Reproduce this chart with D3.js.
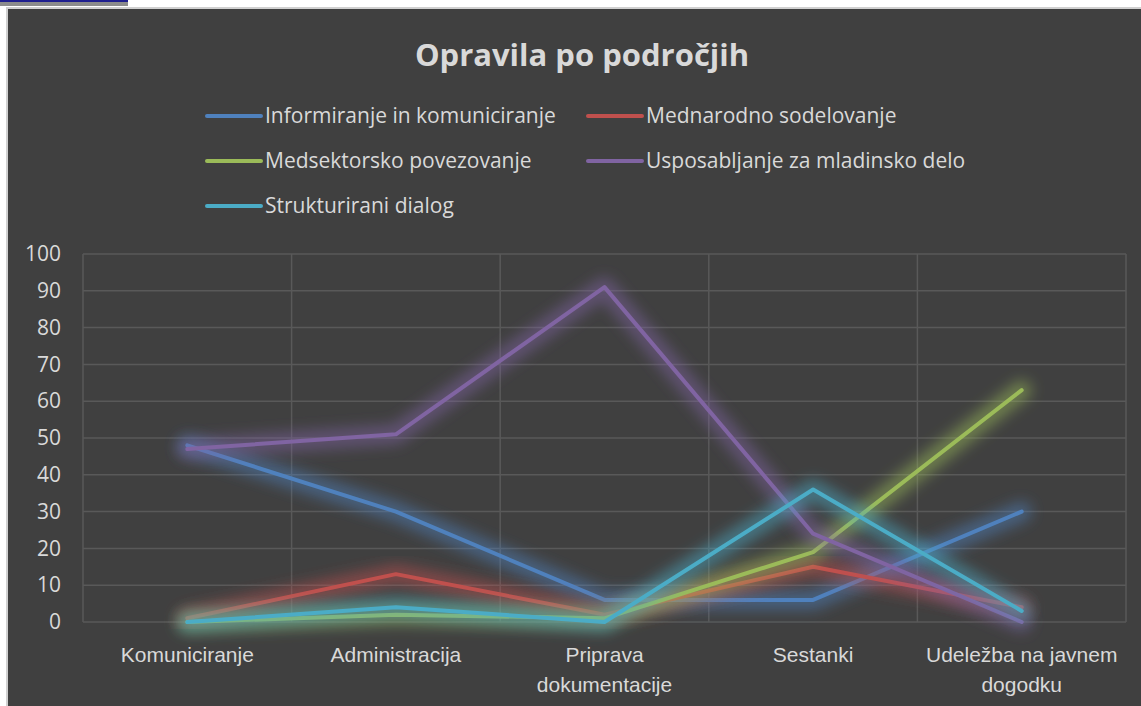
<!DOCTYPE html>
<html>
<head>
<meta charset="utf-8">
<script src="https://cdn.jsdelivr.net/npm/d3@7"></script>
<style>
  body { margin: 0; background: #fff; }
  svg { display: block; font-family: "Open Sans", sans-serif; }
</style>
</head>
<body>
<div id="chart"></div>
<script>
// categories and values
var categories = ["Komuniciranje", "Administracija", "Priprava dokumentacije", "Sestanki", "Udeležba na javnem dogodku"];
var tickLabels = [["Komuniciranje"], ["Administracija"], ["Priprava", "dokumentacije"], ["Sestanki"], ["Udeležba na javnem", "dogodku"]];
var seriesNames = ["Informiranje in komuniciranje", "Mednarodno sodelovanje", "Medsektorsko povezovanje", "Usposabljanje za mladinsko delo", "Strukturirani dialog"];
var informiranje = [48, 30, 6, 6, 30];
var mednarodno = [1, 13, 2, 15, 4];
var medsektorsko = [0, 2, 1, 19, 63];
var usposabljanje = [47, 51, 91, 24, 0];
var strukturirani = [0, 4, 0, 36, 3];
var yTicks = [0, 10, 20, 30, 40, 50, 60, 70, 80, 90, 100];

var colors = ["#4f81bd", "#c0504d", "#9bbb59", "#8064a2", "#4bacc6"];
var series = [informiranje, mednarodno, medsektorsko, usposabljanje, strukturirani];

var W = 1141, H = 706;
var plot = { left: 83, right: 1126, top: 254, bottom: 622 };

var svg = d3.select("#chart").append("svg")
    .attr("width", W)
    .attr("height", H);

// glow filter
var defs = svg.append("defs");
defs.append("filter")
    .attr("id", "glow")
    .attr("x", "-20%").attr("y", "-20%")
    .attr("width", "140%").attr("height", "140%")
    .append("feGaussianBlur")
    .attr("stdDeviation", 7);

// little bar at the top left
svg.append("rect").attr("x", 0).attr("y", 0).attr("width", 128).attr("height", 2).attr("fill", "#1f1f8f");
svg.append("rect").attr("x", 0).attr("y", 2).attr("width", 128).attr("height", 4).attr("fill", "#8c8c8c");

// chart area
svg.append("rect")
    .attr("x", 7).attr("y", 8)
    .attr("width", W).attr("height", H)
    .attr("fill", "#404040")
    .attr("stroke", "#d0d0d0")
    .attr("stroke-width", 2);

var x = d3.scaleBand()
    .domain(categories)
    .range([plot.left, plot.right])
    .padding(0);

var y = d3.scaleLinear()
    .domain([0, 100])
    .range([plot.bottom, plot.top]);

// gridlines
var grid = svg.append("g").attr("stroke", "#595959").attr("stroke-width", 1.5);
grid.selectAll(".hg")
    .data(yTicks)
    .enter().append("line")
    .attr("x1", plot.left).attr("x2", plot.right)
    .attr("y1", function (d) { return y(d); })
    .attr("y2", function (d) { return y(d); });
var vEdges = categories.map(function (c) { return x(c); }).concat([plot.right]);
grid.selectAll(".vg")
    .data(vEdges)
    .enter().append("line")
    .attr("x1", function (d) { return d; }).attr("x2", function (d) { return d; })
    .attr("y1", plot.top).attr("y2", plot.bottom);

// y axis
var yAxis = svg.append("g")
    .attr("transform", "translate(" + plot.left + ",0)")
    .call(d3.axisLeft(y).tickValues(yTicks).tickSize(0).tickPadding(22));
yAxis.select(".domain").remove();
yAxis.selectAll("text")
    .attr("fill", "#d9d9d9")
    .style("font-size", "21px")
    .style("font-family", "'Open Sans', sans-serif");

// x axis
var xAxis = svg.append("g")
    .attr("transform", "translate(0," + plot.bottom + ")")
    .call(d3.axisBottom(x).tickSize(0).tickFormat(""));
xAxis.select(".domain").remove();
xAxis.selectAll(".tick").each(function (d, i) {
    var t = d3.select(this).append("text")
        .attr("fill", "#d9d9d9")
        .attr("text-anchor", "middle")
        .style("font-size", "21px");
    tickLabels[i].forEach(function (line, j) {
        t.append("tspan").attr("x", 0).attr("y", 40 + j * 30).text(line);
    });
});

// lines, each with a soft glow under it
var line = d3.line()
    .x(function (d, i) { return x(categories[i]) + x.bandwidth() / 2; })
    .y(function (d) { return y(d); });

series.forEach(function (s, k) {
    svg.append("path")
        .datum(s)
        .attr("d", line)
        .attr("fill", "none")
        .attr("stroke", colors[k])
        .attr("stroke-width", 20)
        .attr("stroke-opacity", 0.5)
        .attr("stroke-linejoin", "round")
        .attr("stroke-linecap", "round")
        .attr("filter", "url(#glow)");
    svg.append("path")
        .datum(s)
        .attr("d", line)
        .attr("fill", "none")
        .attr("stroke", colors[k])
        .attr("stroke-width", 4)
        .attr("stroke-linejoin", "round")
        .attr("stroke-linecap", "round");
});

// title
svg.append("text")
    .attr("x", 582).attr("y", 66)
    .attr("text-anchor", "middle")
    .attr("fill", "#d9d9d9")
    .style("font-size", "31px")
    .style("font-weight", "bold")
    .text("Opravila po področjih");

// legend
var legendPos = [[207, 116], [588, 116], [207, 161], [588, 161], [207, 206]];
var legend = svg.append("g");
seriesNames.forEach(function (name, k) {
    var p = legendPos[k];
    legend.append("line")
        .attr("x1", p[0]).attr("x2", p[0] + 54)
        .attr("y1", p[1]).attr("y2", p[1])
        .attr("stroke", colors[k])
        .attr("stroke-width", 4)
        .attr("stroke-linecap", "round");
    legend.append("text")
        .attr("x", p[0] + 58).attr("y", p[1])
        .attr("dy", "0.35em")
        .attr("fill", "#d9d9d9")
        .style("font-size", "21px")
        .text(name);
});
</script>
</body>
</html>
